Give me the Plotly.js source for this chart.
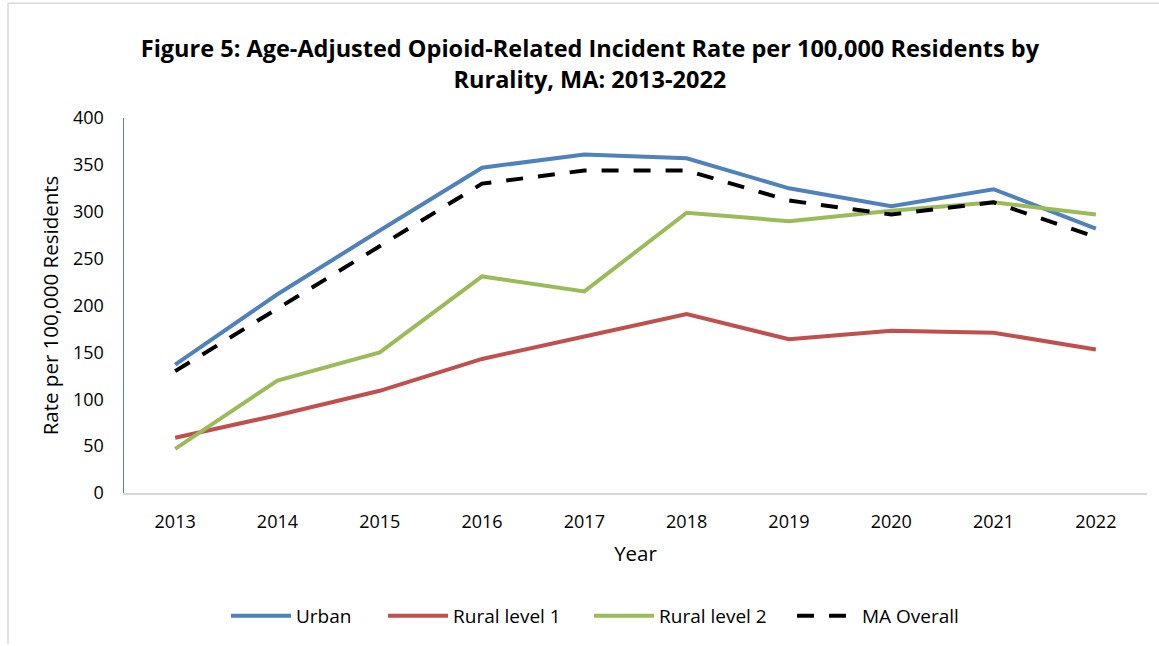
<!DOCTYPE html>
<html>
<head>
<meta charset="utf-8">
<script src="https://cdn.plot.ly/plotly-3.0.1.min.js"></script>
<style>html,body{margin:0;padding:0;background:#fff;}#chart{width:1159px;height:646px;}</style>
</head>
<body>
<div id="chart"></div>
<script>
const years = ['2013','2014','2015','2016','2017','2018','2019','2020','2021','2022'];
const urban = [137, 212, 280, 347, 361, 357, 325, 306, 324, 282];
const ruralLevel1 = [59, 83, 109, 143, 167, 191, 164, 173, 171, 153];
const ruralLevel2 = [47, 120, 150, 231, 215, 299, 290, 301, 310, 297];
const maOverall = [130, 197, 263, 330, 344, 344, 312, 297, 310, 273];
const yTicks = [0, 50, 100, 150, 200, 250, 300, 350, 400];

const font = 'Open Sans, sans-serif';
const PL = 124, PW = 1023, PB = 494, PH = 376;
const px = v => (v - PL) / PW;
const py = v => (PB - v) / PH;

const traces = [
  {x: years, y: urban, name: 'Urban', mode: 'lines', line: {color: '#4F81BD', width: 4}, legend: 'legend'},
  {x: years, y: ruralLevel1, name: 'Rural level 1', mode: 'lines', line: {color: '#C0504D', width: 4}, legend: 'legend2'},
  {x: years, y: ruralLevel2, name: 'Rural level 2', mode: 'lines', line: {color: '#9BBB59', width: 4}, legend: 'legend3'},
  {x: years, y: maOverall, name: 'MA Overall', mode: 'lines', line: {color: '#000000', width: 4, dash: '17px,15px'}, legend: 'legend4'}
];
const legendBase = {orientation: 'h', yanchor: 'middle', y: py(616), xanchor: 'left', font: {family: font, size: 19}, itemwidth: 60, bgcolor: 'rgba(0,0,0,0)'};
const textStarts = [296, 453, 659, 862];
const layout = {
  width: 1159, height: 646,
  margin: {l: PL, r: 12, t: 118, b: 152},
  paper_bgcolor: '#fff', plot_bgcolor: '#fff',
  font: {family: font, size: 18, color: '#000'},
  title: {text: '<b>Figure 5: Age-Adjusted Opioid-Related Incident Rate per 100,000 Residents by<br>Rurality, MA: 2013-2022</b>',
          font: {family: font, size: 23.5, color: '#000'}, x: 0.509, xanchor: 'center', y: 1 - 57/646, yanchor: 'middle'},
  xaxis: {type: 'category', range: [-0.5, 9.5], showgrid: false, zeroline: false, showline: true, linecolor: '#D9D9D9', linewidth: 1.5,
          ticks: '', ticklabelstandoff: 12, tickfont: {family: font, size: 18},
          title: {text: 'Year', font: {family: font, size: 20.5}, standoff: 14}},
  yaxis: {range: [0, 400], tickvals: yTicks, showgrid: false, zeroline: false, showline: true, linecolor: '#4F81BD', linewidth: 1.5,
          ticks: '', ticklabelstandoff: 15, tickfont: {family: font, size: 18},
          title: {text: 'Rate per 100,000 Residents', font: {family: font, size: 20.5}, standoff: 9}},
  showlegend: true,
  legend: Object.assign({}, legendBase, {x: px(textStarts[0] - 70)}),
  legend2: Object.assign({}, legendBase, {x: px(textStarts[1] - 70)}),
  legend3: Object.assign({}, legendBase, {x: px(textStarts[2] - 70)}),
  legend4: Object.assign({}, legendBase, {x: px(textStarts[3] - 70)}),
  shapes: [
    {type: 'line', xref: 'paper', yref: 'paper', x0: px(8), x1: px(1159), y0: py(3), y1: py(3), line: {color: '#D9D9D9', width: 1.5}},
    {type: 'line', xref: 'paper', yref: 'paper', x0: px(8), x1: px(8), y0: py(3), y1: py(646), line: {color: '#D9D9D9', width: 1.5}}
  ]
};
Plotly.newPlot('chart', traces, layout, {displayModeBar: false, staticPlot: true});
</script>
</body>
</html>
